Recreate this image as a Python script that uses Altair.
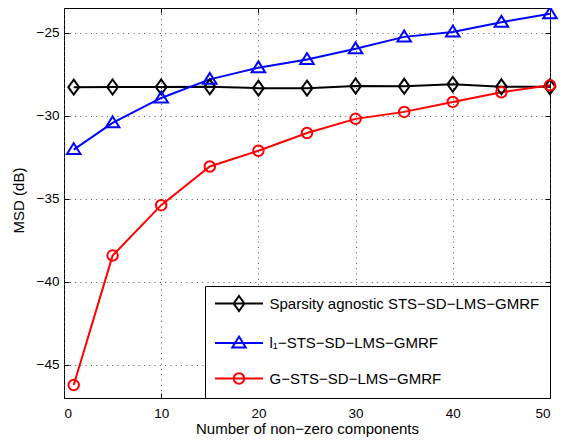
import altair as alt
import pandas as pd

n_components = [1, 5, 10, 15, 20, 25, 30, 35, 40, 45, 50]
msd_agnostic = [-28.27, -28.26, -28.26, -28.25, -28.33, -28.33, -28.2, -28.22, -28.1, -28.25, -28.25]
msd_l1 = [-32.03, -30.42, -28.92, -27.8, -27.1, -26.6, -25.96, -25.24, -24.94, -24.36, -23.84]
msd_g = [-46.22, -38.42, -35.38, -33.05, -32.1, -31.03, -30.18, -29.76, -29.16, -28.58, -28.16]

series_names = [
    "Sparsity agnostic STS−SD−LMS−GMRF",
    "l₁−STS−SD−LMS−GMRF",
    "G−STS−SD−LMS−GMRF",
]
series_colors = ["#000000", "#0000ff", "#ff0000"]
x_ticks = [0, 10, 20, 30, 40, 50]
y_ticks = [-45, -40, -35, -30, -25]

# marker shapes in the plot
marker_paths = [
    "M0,-1L0.72,0L0,1L-0.72,0Z",
    "M0,-0.85L0.9,0.6L-0.9,0.6Z",
    "circle",
]
marker_sizes = [225, 225, 110]

# legend symbols: line + marker
legend_paths = [
    "M-4,0H4M0,-1.25L0.9,0L0,1.25L-0.9,0Z",
    "M-4,0H4M0,-1.07L1.12,0.75L-1.12,0.75Z",
    "M-4,0H4M0.875,0A0.875,0.875 0 1,1 -0.875,0A0.875,0.875 0 1,1 0.875,0Z",
]

rows = []
for name, vals in zip(series_names, [msd_agnostic, msd_l1, msd_g]):
    for xv, yv in zip(n_components, vals):
        rows.append({"k": xv, "msd": yv, "series": name})
df = pd.DataFrame(rows)

FONT = "Liberation Sans"

color_scale = alt.Scale(domain=series_names, range=series_colors)
x_scale = alt.Scale(domain=[0, 50], nice=False, zero=False)
y_scale = alt.Scale(domain=[-47, -23.5], nice=False, zero=False)

# main axes (bottom / left), ticks pointing inward
x_enc = alt.X(
    "k:Q",
    scale=x_scale,
    axis=alt.Axis(
        orient="bottom",
        values=x_ticks,
        title="Number of non−zero components",
        titleBaseline="alphabetic",
        titleY=40,
        offset=-5,
        ticks=True,
        tickSize=5,
        labelPadding=8,
        grid=True,
    ),
)
y_enc = alt.Y(
    "msd:Q",
    scale=y_scale,
    axis=alt.Axis(
        orient="left",
        values=y_ticks,
        title="MSD (dB)",
        titleBaseline="alphabetic",
        titleX=-46,
        titleY=192,
        titleAngle=-90,
        offset=-5,
        ticks=True,
        tickSize=5,
        labelPadding=5,
        grid=True,
    ),
)

# mirror axes (top / right): inward ticks only
x_enc_top = alt.X(
    "k:Q",
    scale=x_scale,
    axis=alt.Axis(
        orient="top", values=x_ticks, title=None, labels=False, grid=False,
        ticks=True, tickSize=5, offset=-5,
    ),
)
y_enc_right = alt.Y(
    "msd:Q",
    scale=y_scale,
    axis=alt.Axis(
        orient="right", values=y_ticks, title=None, labels=False, grid=False,
        ticks=True, tickSize=5, offset=-5,
    ),
)

base = alt.Chart(df)

legend_cfg = dict(
    title=None,
    orient="bottom-right",
    offset=0,
    padding=10,
    rowPadding=17.5,
    symbolSize=144,
    symbolStrokeWidth=2,
    symbolOffset=16.5,
    labelOffset=23,
    labelFont=FONT,
    labelFontSize=15,
    labelLimit=500,
    labelColor="black",
    strokeColor="black",
    fillColor="white",
)

legend_layer = (
    base.transform_filter("false")
    .mark_point(filled=False, strokeWidth=2, opacity=1)
    .encode(
        x=x_enc_top,
        y=y_enc_right,
        color=alt.Color("series:N", scale=color_scale, sort=series_names, legend=alt.Legend(**legend_cfg)),
        shape=alt.Shape(
            "series:N",
            scale=alt.Scale(domain=series_names, range=legend_paths),
            sort=series_names,
            legend=alt.Legend(**legend_cfg),
        ),
    )
)

lines = base.mark_line(strokeWidth=2).encode(
    x=x_enc,
    y=y_enc,
    color=alt.Color("series:N", scale=color_scale, legend=None),
)

markers = []
for name, path, size in zip(series_names, marker_paths, marker_sizes):
    markers.append(
        base.transform_filter(alt.datum.series == name)
        .mark_point(shape=path, size=size, filled=False, strokeWidth=2, opacity=1)
        .encode(
            x=x_enc,
            y=y_enc,
            color=alt.Color("series:N", scale=color_scale, legend=None),
        )
    )

data_layers = alt.layer(lines, *markers)

chart = (
    alt.layer(legend_layer, data_layers)
    .resolve_axis(x="independent", y="independent")
    .properties(
        width=486,
        height=390,
        padding={"left": 56, "top": 0, "right": 16, "bottom": 40},
        autosize=alt.AutoSizeParams(type="none"),
        background="white",
    )
    .configure_view(stroke="black", strokeWidth=1)
    .configure_axis(
        labelFont=FONT,
        labelFontSize=13.5,
        labelColor="black",
        titleFont=FONT,
        titleFontSize=15,
        titleFontWeight="normal",
        titleColor="black",
        domain=False,
        tickColor="black",
        tickWidth=1,
        gridColor="#555555",
        gridDash=[1, 4.3],
        gridWidth=1,
        gridOpacity=1,
    )
)

chart.save("out.html", embed_options={"renderer": "svg", "actions": False})
